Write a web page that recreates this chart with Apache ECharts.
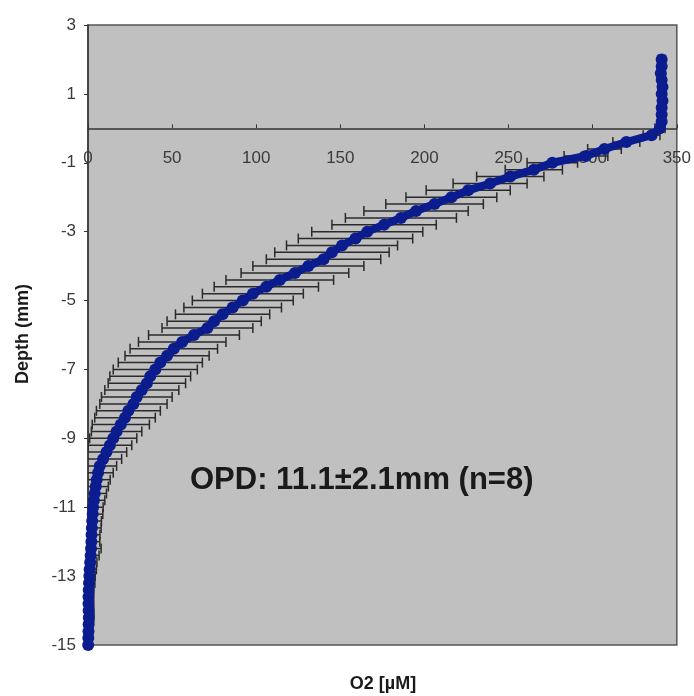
<!DOCTYPE html>
<html>
<head>
<meta charset="utf-8">
<script src="https://cdn.jsdelivr.net/npm/echarts@6/dist/echarts.min.js"></script>
<style>
html,body{margin:0;padding:0;background:#fff;}
#chart{width:694px;height:696px;}
</style>
</head>
<body>
<div id="chart"></div>
<script>
// Depth (mm), 0.2 mm steps
const depth = [
  2.0,1.8,1.6,1.4,1.2,1.0,0.8,0.6,0.4,0.2,
  0.0,-0.2,-0.4,-0.6,-0.8,-1.0,-1.2,-1.4,-1.6,-1.8,
  -2.0,-2.2,-2.4,-2.6,-2.8,-3.0,-3.2,-3.4,-3.6,-3.8,
  -4.0,-4.2,-4.4,-4.6,-4.8,-5.0,-5.2,-5.4,-5.6,-5.8,
  -6.0,-6.2,-6.4,-6.6,-6.8,-7.0,-7.2,-7.4,-7.6,-7.8,
  -8.0,-8.2,-8.4,-8.6,-8.8,-9.0,-9.2,-9.4,-9.6,-9.8,
  -10.0,-10.2,-10.4,-10.6,-10.8,-11.0,-11.2,-11.4,-11.6,-11.8,
  -12.0,-12.2,-12.4,-12.6,-12.8,-13.0,-13.2,-13.4,-13.6,-13.8,
  -14.0,-14.2,-14.4,-14.6,-14.8,-15.0
];
// Mean O2 (µM)
const o2Mean = [
  341,341,340.5,341,341.5,341,341.5,341,341,341,
  340,335,320,307,296,276,265,251,239,226,
  216,206,195,186,176,166,159,151,145,140,
  131,123,114,106,98,92,86,80,75,71,
  63,56,51,47,43,40,37,35,32,29,
  27,24,22,19.5,17,15,13,11,9,7,
  6,5.2,4.6,4,3.5,3,2.8,2.5,2.3,2.1,
  2,1.8,1.6,1.3,1,0.8,0.6,0.4,0.3,0.3,
  0.4,0.5,0.4,0.3,0.2,0.1
];
// Standard deviation of O2 (µM)
const o2SD = [
  2,2,2,2,2,2,2,2,2,2,
  3,5,8,10,13,15,17,20,22,25,
  27,29,31,33,31,33,34,33,34,34,
  33,32,32,31,30,30,29,28,28,27,
  27,26,26,25,25,25,24,23,22,21,
  20,19,18,17,15,14,13,12,11,10,
  9,8,7.5,7,6.5,6,6,5.5,5.5,5,
  5,6,5,4,4,3.5,3.5,3,3,3,
  3,3,2.5,2.5,2,2
];
const xTicks = [0,50,100,150,200,250,300,350];
const yTicks = [3,1,-1,-3,-5,-7,-9,-11,-13,-15];
const xTitle = 'O2 [µM]';
const yTitle = 'Depth (mm)';
const annotation = 'OPD: 11.1±2.1mm (n=8)';

const FONT = '"Liberation Sans", Arial, sans-serif';
const meanData = depth.map((d, i) => [o2Mean[i], d]);
const errData = depth.map((d, i) => [o2Mean[i] - o2SD[i], o2Mean[i] + o2SD[i], d]);

const GRID_TOP = 25, GRID_BOTTOM = 51, H = 696;
const plotH = H - GRID_TOP - GRID_BOTTOM;
const yMin = yTicks[yTicks.length - 1], yMax = yTicks[0];
// distance from bottom edge of plot up to the zero line
const zeroOffset = plotH * (0 - yMin) / (yMax - yMin);

const chart = echarts.init(document.getElementById('chart'), null, {renderer: 'canvas'});
chart.setOption({
  animation: false,
  backgroundColor: '#ffffff',
  grid: {
    left: 88, right: 17, top: GRID_TOP, bottom: GRID_BOTTOM,
    show: true, backgroundColor: '#c0c0c0', borderColor: '#555555', borderWidth: 1.5
  },
  xAxis: {
    type: 'value', min: xTicks[0], max: xTicks[xTicks.length - 1], interval: 50,
    position: 'bottom', offset: -zeroOffset,
    axisLine: {onZero: false, lineStyle: {color: '#333333', width: 1.5}},
    axisTick: {show: true, inside: true, length: 4, lineStyle: {color: '#333333'}},
    axisLabel: {color: '#3a3a3a', fontSize: 17, fontFamily: FONT, margin: 21},
    splitLine: {show: false}
  },
  yAxis: {
    type: 'value', min: yMin, max: yMax, interval: 2,
    axisLine: {show: true, onZero: false, lineStyle: {color: '#333333', width: 1.5}},
    axisTick: {show: true, inside: false, length: 4, lineStyle: {color: '#333333'}},
    axisLabel: {color: '#3a3a3a', fontSize: 17, fontFamily: FONT, margin: 12},
    splitLine: {show: false}
  },
  graphic: [
    {type: 'text', left: 190, top: 465, z: 100,
     style: {text: annotation, font: 'bold 31px ' + FONT, fill: '#1a1a1a'}},
    {type: 'text', x: 383, y: 684, z: 100,
     style: {text: xTitle, font: 'bold 18px ' + FONT, fill: '#1a1a1a', align: 'center', verticalAlign: 'middle'}},
    {type: 'text', x: 23, y: 334, rotation: Math.PI / 2, z: 100,
     style: {text: yTitle, font: 'bold 18px ' + FONT, fill: '#1a1a1a', align: 'center', verticalAlign: 'middle'}}
  ],
  series: [
    {
      type: 'custom',
      clip: true,
      z: 2,
      encode: {x: [0, 1], y: 2},
      data: errData,
      renderItem: function (params, api) {
        const lo = api.coord([api.value(0), api.value(2)]);
        const hi = api.coord([api.value(1), api.value(2)]);
        const h = 5;
        const style = {stroke: '#2a2a2a', lineWidth: 1.5};
        return {
          type: 'group',
          children: [
            {type: 'line', shape: {x1: lo[0], y1: lo[1], x2: hi[0], y2: hi[1]}, style: style},
            {type: 'line', shape: {x1: lo[0], y1: lo[1] - h, x2: lo[0], y2: lo[1] + h}, style: style},
            {type: 'line', shape: {x1: hi[0], y1: hi[1] - h, x2: hi[0], y2: hi[1] + h}, style: style}
          ]
        };
      }
    },
    {
      type: 'line',
      z: 3,
      data: meanData,
      showSymbol: true,
      symbol: 'circle',
      symbolSize: 12,
      lineStyle: {color: '#0b1c8f', width: 8},
      itemStyle: {color: '#0b1c8f'}
    }
  ]
});
</script>
</body>
</html>
